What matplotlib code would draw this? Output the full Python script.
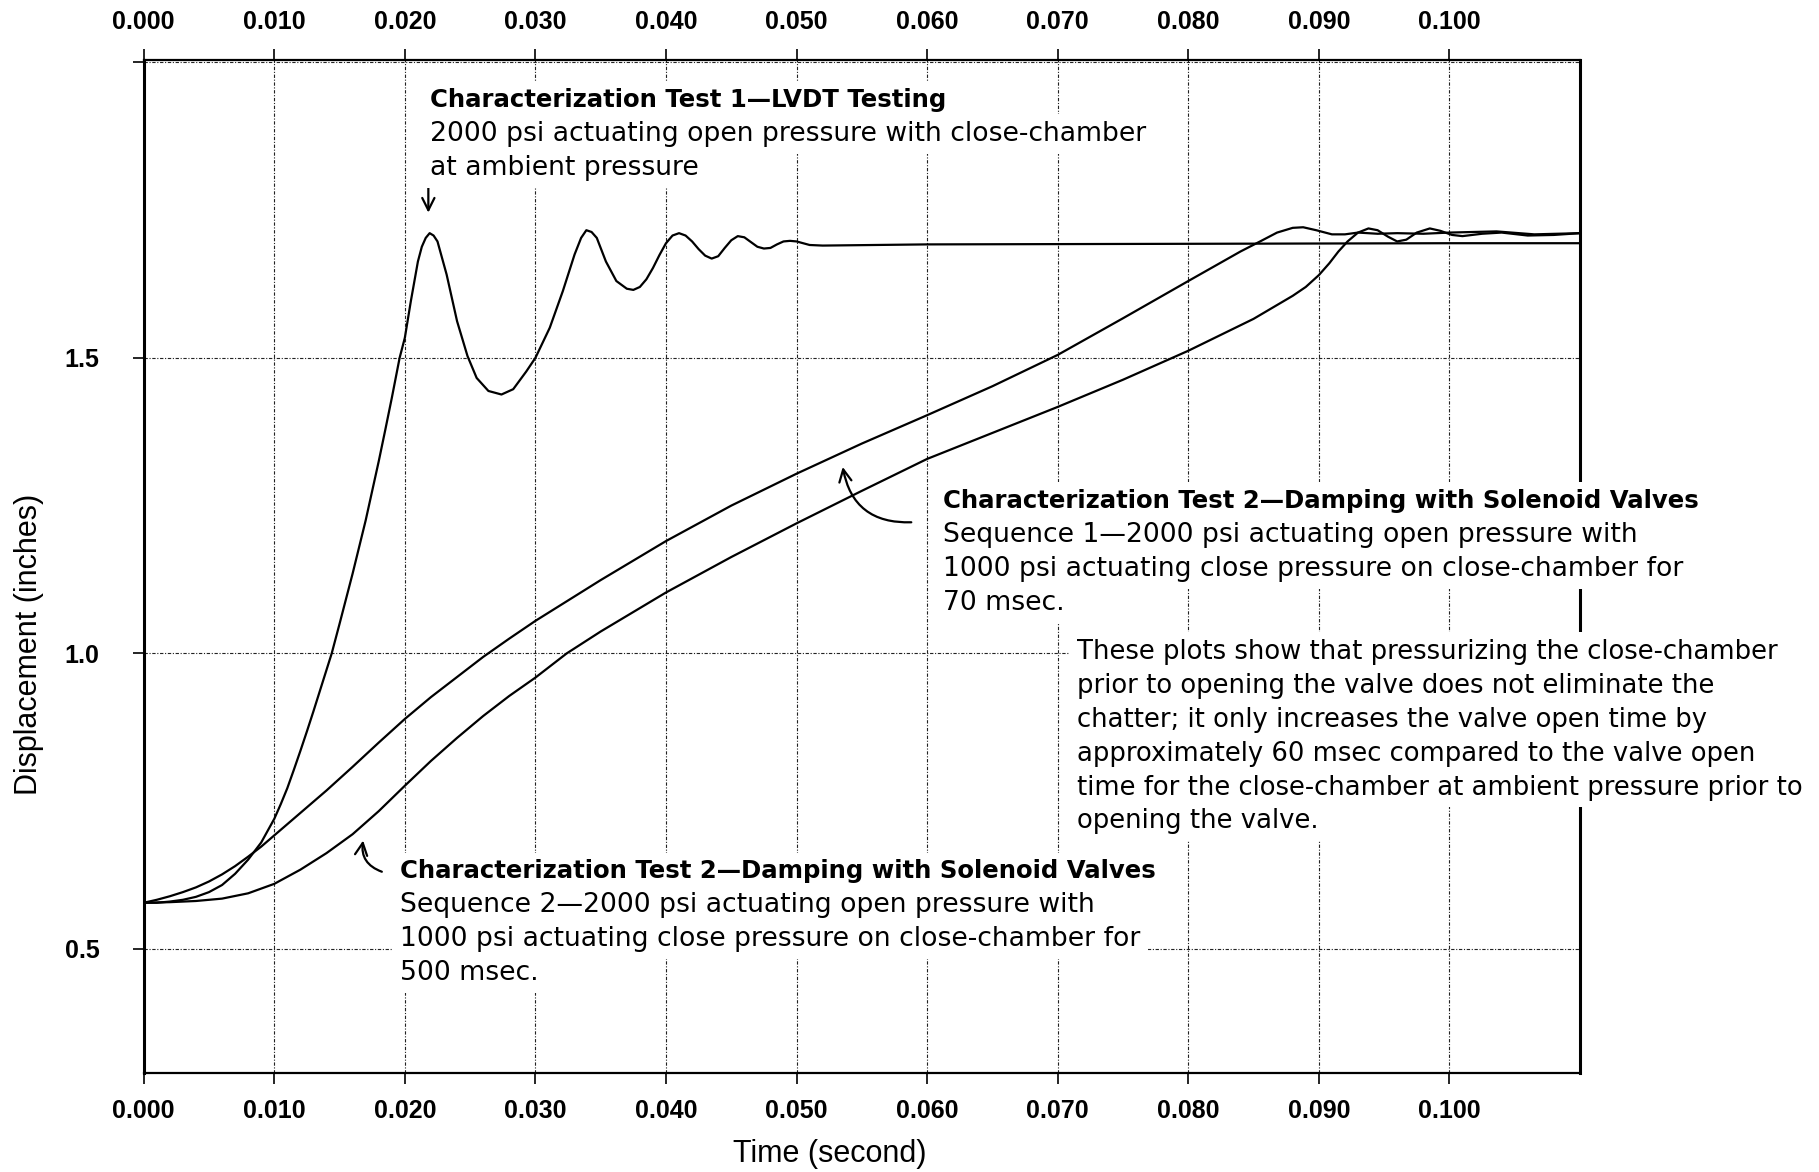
import matplotlib
matplotlib.use("Agg")
import matplotlib.pyplot as plt

# test 1: LVDT testing (close-chamber at ambient pressure)
t_test1 = [0, 0.001, 0.002, 0.003, 0.004, 0.005, 0.006, 0.007, 0.008, 0.009,
           0.010, 0.0105, 0.011, 0.0115, 0.012, 0.0125, 0.013, 0.0135, 0.014,
           0.0144, 0.015, 0.016, 0.017, 0.018, 0.0185, 0.019, 0.0196, 0.020,
           0.02046, 0.021, 0.0213, 0.0216, 0.0219, 0.0222, 0.0225, 0.0232, 0.024,
           0.0248, 0.0255, 0.0264, 0.0274, 0.0283, 0.0293, 0.030, 0.0311, 0.0321,
           0.033, 0.0335, 0.0339, 0.0343, 0.0347, 0.0354, 0.0362, 0.037, 0.0375,
           0.038, 0.0385, 0.039, 0.0395, 0.040, 0.0405, 0.041, 0.0415, 0.042,
           0.0425, 0.043, 0.0435, 0.044, 0.0445, 0.045, 0.0455, 0.046, 0.0465,
           0.047, 0.0475, 0.048, 0.0485, 0.049, 0.0495, 0.050, 0.0505, 0.051,
           0.052, 0.060, 0.080, 0.100, 0.110]
d_test1 = [0.578, 0.578, 0.580, 0.583, 0.588, 0.596, 0.608, 0.627, 0.651, 0.680,
           0.720, 0.745, 0.772, 0.803, 0.835, 0.868, 0.902, 0.937, 0.972,
           1.000, 1.050, 1.135, 1.225, 1.325, 1.378, 1.432, 1.500, 1.534,
           1.596, 1.663, 1.688, 1.703, 1.711, 1.707, 1.697, 1.641, 1.562,
           1.503, 1.466, 1.444, 1.438, 1.447, 1.477, 1.500, 1.551, 1.613,
           1.675, 1.703, 1.716, 1.713, 1.703, 1.663, 1.630, 1.617, 1.615,
           1.620, 1.633, 1.652, 1.674, 1.694, 1.707, 1.711, 1.707, 1.697,
           1.684, 1.673, 1.668, 1.672, 1.686, 1.699, 1.706, 1.704, 1.696,
           1.688, 1.685, 1.686, 1.692, 1.697, 1.698, 1.697, 1.694, 1.691,
           1.690, 1.692, 1.693, 1.694, 1.694]

# test 2, sequence 1 (70 msec close pressure)
t_seq1 = [0, 0.001, 0.002, 0.003, 0.004, 0.005, 0.006, 0.007, 0.008, 0.009,
          0.010, 0.012, 0.014, 0.016, 0.018, 0.020, 0.022, 0.024, 0.026, 0.028,
          0.030, 0.035, 0.040, 0.045, 0.050, 0.055, 0.060, 0.065, 0.070, 0.075,
          0.080, 0.082, 0.084, 0.0855, 0.0868, 0.088, 0.0888, 0.0898, 0.091,
          0.092, 0.093, 0.0945, 0.096, 0.098, 0.100, 0.1036, 0.1065, 0.110]
d_seq1 = [0.578, 0.583, 0.589, 0.596, 0.604, 0.614, 0.626, 0.640, 0.656, 0.673,
          0.692, 0.730, 0.768, 0.808, 0.849, 0.889, 0.926, 0.960, 0.994, 1.025,
          1.055, 1.124, 1.190, 1.250, 1.304, 1.355, 1.403, 1.452, 1.505, 1.567,
          1.630, 1.655, 1.680, 1.697, 1.712, 1.720, 1.721, 1.716, 1.709,
          1.709, 1.712, 1.710, 1.711, 1.710, 1.712, 1.714, 1.709, 1.711]

# test 2, sequence 2 (500 msec close pressure)
t_seq2 = [0, 0.002, 0.004, 0.006, 0.008, 0.010, 0.012, 0.014, 0.016, 0.018,
          0.020, 0.022, 0.024, 0.026, 0.028, 0.030, 0.0324, 0.035, 0.040, 0.045,
          0.050, 0.055, 0.060, 0.065, 0.070, 0.075, 0.080, 0.085, 0.088,
          0.089, 0.090, 0.0908, 0.0915, 0.0922, 0.093, 0.0938, 0.0945, 0.0953,
          0.096, 0.0967, 0.0975, 0.0985, 0.0993, 0.1002, 0.101, 0.1025, 0.104,
          0.106, 0.108, 0.110]
d_seq2 = [0.578, 0.579, 0.581, 0.585, 0.594, 0.610, 0.634, 0.662, 0.694, 0.733,
          0.776, 0.818, 0.857, 0.894, 0.928, 0.959, 1.000, 1.037, 1.103, 1.163,
          1.220, 1.275, 1.329, 1.373, 1.417, 1.463, 1.512, 1.566, 1.605,
          1.620, 1.640, 1.660, 1.680, 1.697, 1.712, 1.719, 1.716, 1.705,
          1.697, 1.700, 1.712, 1.719, 1.715, 1.708, 1.706, 1.710, 1.712,
          1.707, 1.708, 1.711]

x_ticks = [0.0, 0.01, 0.02, 0.03, 0.04, 0.05, 0.06, 0.07, 0.08, 0.09, 0.10]
x_labels = ["0.000", "0.010", "0.020", "0.030", "0.040", "0.050",
            "0.060", "0.070", "0.080", "0.090", "0.100"]
y_ticks = [0.5, 1.0, 1.5, 2.0]
y_labels = ["0.5", "1.0", "1.5", ""]

note1 = ["Characterization Test 1\u2014LVDT Testing",
         "2000 psi actuating open pressure with close-chamber",
         "at ambient pressure"]
note2 = ["Characterization Test 2\u2014Damping with Solenoid Valves",
         "Sequence 1\u20142000 psi actuating open pressure with",
         "1000 psi actuating close pressure on close-chamber for",
         "70 msec."]
note3 = ["These plots show that pressurizing the close-chamber",
         "prior to opening the valve does not eliminate the",
         "chatter; it only increases the valve open time by",
         "approximately 60 msec compared to the valve open",
         "time for the close-chamber at ambient pressure prior to",
         "opening the valve."]
note4 = ["Characterization Test 2\u2014Damping with Solenoid Valves",
         "Sequence 2\u20142000 psi actuating open pressure with",
         "1000 psi actuating close pressure on close-chamber for",
         "500 msec."]

fig = plt.figure(figsize=(18.19, 11.72), dpi=100)
ax = fig.add_axes([0.079, 0.0845, 0.7896, 0.8643])

for t, d in [(t_test1, d_test1), (t_seq1, d_seq1), (t_seq2, d_seq2)]:
    ax.plot(t, d, color="black", lw=1.6, zorder=2)

ax.set_xlim(0, 0.110)
ax.set_ylim(0.29, 2.004)
ax.set_xticks(x_ticks)
ax.set_xticklabels(x_labels)
ax.set_yticks(y_ticks)
ax.set_yticklabels(y_labels)
ax.grid(True, color="#222222", lw=0.8, linestyle=(0, (3, 1.5, 1, 1.5)), zorder=1)

ax.tick_params(axis="x", direction="out", length=8, width=1.2, top=True,
               labeltop=True, pad=11)
ax.tick_params(axis="y", direction="out", length=8, width=1.2, pad=24)
for lab in ax.get_xticklabels():
    lab.set_family("Liberation Sans")
    lab.set_fontweight("bold")
    lab.set_fontsize(18)
for lab in ax.get_yticklabels():
    lab.set_family("Liberation Sans")
    lab.set_fontweight("bold")
    lab.set_fontsize(18)
for s in ["left", "right"]:
    ax.spines[s].set_linewidth(2.2)
for s in ["top", "bottom"]:
    ax.spines[s].set_linewidth(1.6)

fam = "DejaVu Sans"
dy = 0.0575
box = dict(facecolor="white", edgecolor="none", pad=5)


def note(x, y, lines, bold_first=True, size=19.2):
    for i, line in enumerate(lines):
        bold = bold_first and i == 0
        ax.text(x, y - i * dy, line, family=fam,
                fontsize=17.6 if bold else size,
                fontweight="bold" if bold else "normal",
                va="center", ha="left", bbox=box, zorder=4)


note(0.0219, 1.937, note1)
note(0.0612, 1.258, note2)
note(0.0715, 1.003, note3, bold_first=False, size=18.6)
note(0.01966, 0.631, note4)

arrow = dict(arrowstyle="->", color="black", lw=1.6, mutation_scale=22)
ax.annotate("", xy=(0.0218, 1.741), xytext=(0.0218, 1.81),
            arrowprops=dict(arrow, connectionstyle="arc3,rad=0"))
ax.annotate("", xy=(0.0535, 1.32), xytext=(0.059, 1.222),
            arrowprops=dict(arrow, connectionstyle="arc3,rad=-0.45"))
ax.annotate("", xy=(0.01684, 0.688), xytext=(0.01844, 0.629),
            arrowprops=dict(arrow, connectionstyle="arc3,rad=-0.45"))

fig.text(0.456, 0.0154, "Time (second)", family="Liberation Sans", fontsize=22,
         ha="center", va="center")
fig.text(0.016, 0.45, "Displacement (inches)", family="Liberation Sans",
         fontsize=22, rotation=90, ha="center", va="center")

fig.savefig("out.png", dpi=100)
